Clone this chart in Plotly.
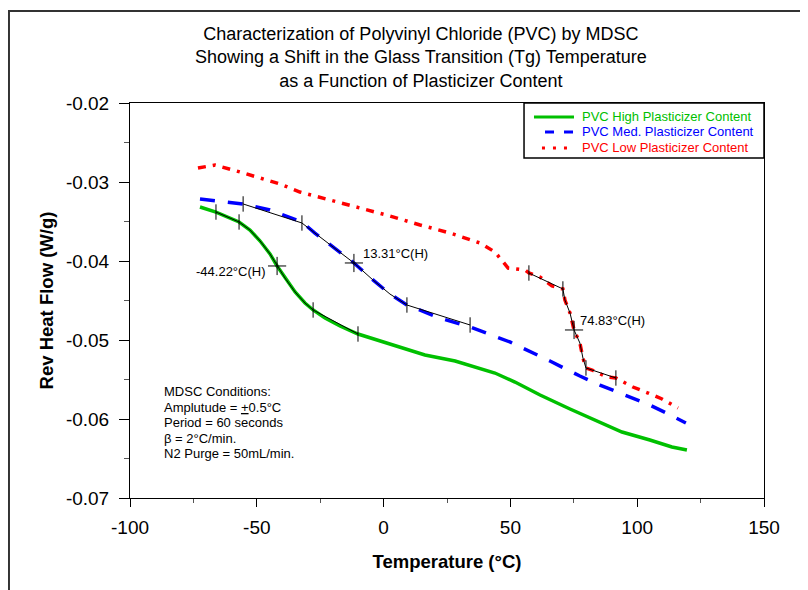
import plotly.graph_objects as go
import numpy as np

# ---------------- data ----------------
high_T = [-72.4, -66.1, -57.0, -52.7, -48.7, -44.8, -42.0, -38.9, -34.9, -31.0, -27.8,
          -23.1, -17.2, -10.1, -1.4, 6.5, 16.3, 28.2, 36.0, 43.9, 51.8, 61.7, 73.5,
          85.3, 94.0, 105.0, 113.7, 119.6]
high_V = [-0.03316, -0.03380, -0.03506, -0.03608, -0.03747, -0.03911, -0.04063, -0.04215,
          -0.04392, -0.04532, -0.04620, -0.04722, -0.04823, -0.04924, -0.05013, -0.05101,
          -0.05190, -0.05266, -0.05342, -0.05418, -0.05532, -0.05696, -0.05873,
          -0.06038, -0.06165, -0.06266, -0.06354, -0.06392]

med_T = [-72.4, -55.4, -44.8, -32.2, -27.1, -21.1, -11.7, -4.2, 2.5, 9.2, 22.2, 34.1,
         49.8, 65.6, 77.4, 85.3, 94.0, 105.0, 111.5, 119.2]
med_V = [-0.03215, -0.03278, -0.03354, -0.03506, -0.03646, -0.03797, -0.04025, -0.04240,
         -0.04418, -0.04557, -0.04722, -0.04835, -0.05025, -0.05266, -0.05456, -0.05570,
         -0.05684, -0.05823, -0.05924, -0.06051]

low_T = [-73.2, -66.5, -56.6, -48.7, -40.9, -33.0, -21.1, -9.3, 2.5, 14.4, 26.2, 38.0,
         43.9, 49.1, 55.8, 57.3, 61.7, 66.4, 70.7, 71.5, 73.5, 75.1, 77.4, 78.6, 79.8,
         82.2, 88.1, 91.6, 98.3, 104.3, 109.8, 116.1]
low_V = [-0.02823, -0.02785, -0.02873, -0.02949, -0.03025, -0.03127, -0.03228, -0.03329,
         -0.03430, -0.03544, -0.03646, -0.03772, -0.03886, -0.04089, -0.04114, -0.04152,
         -0.04203, -0.04316, -0.04354, -0.04494, -0.04658, -0.04873, -0.05038, -0.05228,
         -0.05354, -0.05380, -0.05468, -0.05481, -0.05595, -0.05671, -0.05747, -0.05861]

# Tg analysis: onset-start, onset, end, end-stop marks and midpoint
high_marks_T = [-66.1, -57.0, -27.8, -10.1]
high_marks_V = [-0.03380, -0.03506, -0.04620, -0.04924]
high_mid = (-42.0, -0.04063)
med_marks_T = [-55.4, -32.2, 9.2, 34.1]
med_marks_V = [-0.03278, -0.03519, -0.04557, -0.04810]
med_mid = (-11.7, -0.04025)
low_marks_T = [57.3, 70.7, 79.8, 91.6]
low_marks_V = [-0.04152, -0.04354, -0.05354, -0.05481]
low_mid = (75.1, -0.04873)

tg_labels = ["-44.22°C(H)", "13.31°C(H)", "74.83°C(H)"]
series_names = ["PVC High Plasticizer Content", "PVC Med. Plasticizer Content",
                "PVC Low Plasticizer Content"]
colors = ["#00c000", "#0000ff", "#ff0000"]
conditions = ["MDSC Conditions:", "Amplutude = <u>+</u>0.5°C", "Period = 60 seconds",
              "β = 2°C/min.", "N2 Purge = 50mL/min."]

x_ticks = [-100, -50, 0, 50, 100, 150]
x_ticktext = ["-100", "-50", "0", "50", "100", "150"]
y_ticks = [-0.07, -0.06, -0.05, -0.04, -0.03, -0.02]
y_ticktext = ["-0.07", "-0.06", "-0.05", "-0.04", "-0.03", "-0.02"]

FONT = "Liberation Sans, Arial, sans-serif"

fig = go.Figure()

fig.add_trace(go.Scatter(x=high_T, y=high_V, mode="lines", line=dict(color=colors[0], width=3.5),
                         name=series_names[0], showlegend=False))
fig.add_trace(go.Scatter(x=med_T, y=med_V, mode="lines",
                         line=dict(color=colors[1], width=3.5, dash="15px,13px"),
                         name=series_names[1], showlegend=False))
fig.add_trace(go.Scatter(x=low_T, y=low_V, mode="lines",
                         line=dict(color=colors[2], width=3.5, dash="8px,7px,3px,7px"),
                         name=series_names[2], showlegend=False))


def overlay(curve_T, curve_V, mT, mV, mid):
    cT = np.array(curve_T)
    cV = np.array(curve_V)
    sel = (cT > mT[1]) & (cT < mT[2])
    xs = [mT[0], mT[1]] + list(cT[sel]) + [mT[2], mT[3]]
    ys = [mV[0], mV[1]] + list(cV[sel]) + [mV[2], mV[3]]
    fig.add_trace(go.Scatter(x=xs, y=ys, mode="lines", line=dict(color="black", width=1),
                             showlegend=False, hoverinfo="skip"))
    fig.add_trace(go.Scatter(x=mT, y=mV, mode="markers",
                             marker=dict(symbol="line-ns", size=11, line=dict(color="black", width=1)),
                             showlegend=False, hoverinfo="skip"))
    fig.add_trace(go.Scatter(x=[mid[0]], y=[mid[1]], mode="markers",
                             marker=dict(symbol="cross-thin", size=13, line=dict(color="black", width=1)),
                             showlegend=False, hoverinfo="skip"))


overlay(high_T, high_V, high_marks_T, high_marks_V, high_mid)
overlay(med_T, med_V, med_marks_T, med_marks_V, med_mid)
overlay(low_T, low_V, low_marks_T, low_marks_V, low_mid)

annotations = [
    dict(x=-45.6, y=-0.04127, text=tg_labels[0], xanchor="right", yanchor="middle"),
    dict(x=-8.9, y=-0.0390, text=tg_labels[1], xanchor="left", yanchor="middle"),
    dict(x=76.7, y=-0.04759, text=tg_labels[2], xanchor="left", yanchor="middle"),
]
for a in annotations:
    a.update(xref="x", yref="y", showarrow=False, font=dict(family=FONT, size=13, color="black"))

# MDSC conditions box, one annotation per line
for i, line in enumerate(conditions):
    annotations.append(dict(
        xref="paper", yref="paper", x=0.051, y=0.2684 - i * 0.0392, xanchor="left", yanchor="middle",
        align="left", showarrow=False, font=dict(family=FONT, size=13, color="black"), text=line))

# manual legend
shapes = []
leg_x0, leg_x1, leg_y0, leg_y1 = 0.6215, 1.0, 0.8608, 1.0
shapes.append(dict(type="rect", xref="paper", yref="paper", x0=leg_x0, x1=leg_x1, y0=leg_y0, y1=leg_y1,
                   line=dict(color="black", width=1.5), fillcolor="white", layer="above"))
rows = [0.9646, 0.9266, 0.8861]
dashes = ["solid", "9px,10px", "3px,8px"]
starts = [0.6372, 0.6546, 0.6498]
for i in range(3):
    shapes.append(dict(type="line", xref="paper", yref="paper", x0=starts[i], x1=0.7003, y0=rows[i], y1=rows[i],
                       line=dict(color=colors[i], width=3, dash=dashes[i]), layer="above"))
    annotations.append(dict(xref="paper", yref="paper", x=0.7098, y=rows[i], xanchor="left",
                            yanchor="middle", showarrow=False, text=series_names[i],
                            font=dict(family=FONT, size=13, color=colors[i])))

# outer frame (extends past the window at right/bottom)
shapes.append(dict(type="rect", xref="paper", yref="paper", x0=-0.1909, x1=1.3, y0=-0.5, y1=1.2329,
                   line=dict(color="#333333", width=2), fillcolor="rgba(0,0,0,0)", layer="above"))

fig.update_layout(
    width=808, height=590,
    margin=dict(l=122, r=52, t=95, b=100),
    paper_bgcolor="white", plot_bgcolor="white",
    font=dict(family=FONT, color="black"),
    title=dict(text="Characterization of Polyvinyl Chloride (PVC) by MDSC<br>"
                    "Showing a Shift in the Glass Transition (Tg) Temperature<br>"
                    "as a Function of Plasticizer Content",
               x=0.511, xanchor="center", y=0.946, yanchor="top", xref="container", yref="container",
               font=dict(family=FONT, size=18, color="black")),
    annotations=annotations,
    shapes=shapes,
    showlegend=False,
)
fig.update_xaxes(range=[-100, 150], tickvals=x_ticks, ticktext=x_ticktext,
                 showline=True, mirror=True, linecolor="black", linewidth=1,
                 ticks="outside", ticklen=8, tickcolor="black", showgrid=False, zeroline=False,
                 minor=dict(dtick=25, tick0=-100, ticks="outside", ticklen=4, tickcolor="#555"),
                 tickfont=dict(family=FONT, size=19), ticklabelstandoff=4,
                 title=dict(text="<b>Temperature (°C)</b>", font=dict(family=FONT, size=18.5), standoff=18))
fig.update_yaxes(range=[-0.07, -0.02], tickvals=y_ticks, ticktext=y_ticktext,
                 showline=True, mirror=True, linecolor="black", linewidth=1,
                 ticks="outside", ticklen=10, tickcolor="black", showgrid=False, zeroline=False,
                 minor=dict(dtick=0.005, tick0=-0.07, ticks="outside", ticklen=5, tickcolor="#555"),
                 tickfont=dict(family=FONT, size=19), ticklabelstandoff=6,
                 title=dict(text="<b>Rev Heat Flow (W/g)</b>", font=dict(family=FONT, size=18.5), standoff=7))

fig.write_html("out.html")
